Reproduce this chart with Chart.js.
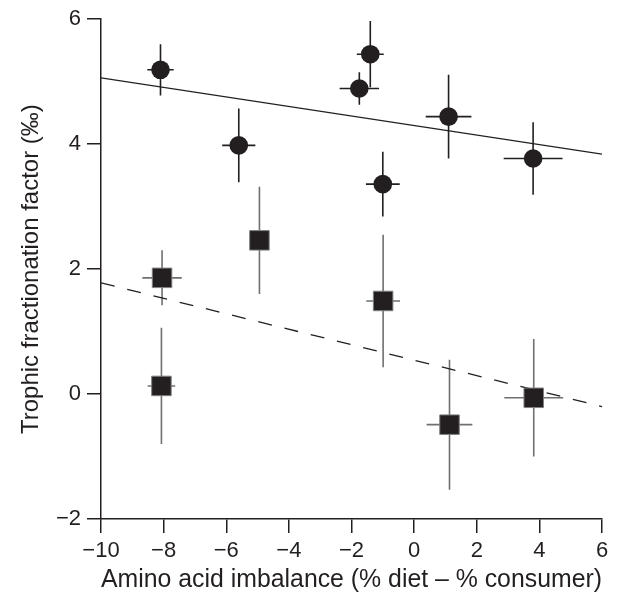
<!DOCTYPE html>
<html>
<head>
<meta charset="utf-8">
<script src="https://cdn.jsdelivr.net/npm/chart.js@4.4.1/dist/chart.umd.min.js"></script>
<style>
  html, body { margin: 0; padding: 0; background: #fff; }
  #wrap { width: 617px; height: 599px; }
</style>
</head>
<body>
<div id="wrap"><canvas id="trophicChart" width="617" height="599"></canvas></div>
<script>
// Circles (upper group)
const circleX = [-8.1, -5.6, -1.4, -1.75, -1.0, 1.1, 3.8];
const circleY = [5.19, 3.98, 5.44, 4.89, 3.36, 4.44, 3.77];
const circleXErr = [0.42, 0.53, 0.43, 0.63, 0.54, 0.73, 0.94];
const circleYErr = [0.41, 0.59, 0.53, 0.26, 0.52, 0.67, 0.58];

// Squares (lower group)
const squareX = [-8.05, -8.07, -4.94, -0.99, 1.13, 3.82];
const squareY = [1.86, 0.13, 2.46, 1.49, -0.49, -0.06];
const squareXErr = [0.63, 0.44, 0.3, 0.54, 0.73, 0.94];
const squareYErr = [0.44, 0.93, 0.86, 1.06, 1.04, 0.94];

// Fitted lines
const fitX = [-10, 6];
const solidFitY = [5.06, 3.84];
const dashedFitY = [1.78, -0.20];

const xTicks = [-10, -8, -6, -4, -2, 0, 2, 4, 6];
const yTicks = [-2, 0, 2, 4, 6];

const ink = '#231f20';
const family = "'Liberation Sans', Arial, Helvetica, sans-serif";
const tickFont = { family: family, size: 22 };
const yTitleFont = { family: family, size: 24 };
const xTitleFont = { family: family, size: 25 };

function toPoints(xs, ys) {
  return xs.map((x, i) => ({ x: x, y: ys[i] }));
}

function minusSign(v) {
  return String(v).replace('-', '\u2212');
}

// draws error bars under the markers
const errorBars = {
  id: 'errorBars',
  beforeDatasetsDraw(chart) {
    const ctx = chart.ctx;
    const xs = chart.scales.x, ys = chart.scales.y;
    chart.data.datasets.forEach(ds => {
      if (!ds.xErr) return;
      ctx.save();
      ctx.strokeStyle = ds.errColor;
      ctx.lineWidth = 1.6;
      ds.data.forEach((p, i) => {
        const px = xs.getPixelForValue(p.x), py = ys.getPixelForValue(p.y);
        ctx.beginPath();
        ctx.moveTo(xs.getPixelForValue(p.x - ds.xErr[i]), py);
        ctx.lineTo(xs.getPixelForValue(p.x + ds.xErr[i]), py);
        ctx.moveTo(px, ys.getPixelForValue(p.y + ds.yErr[i]));
        ctx.lineTo(px, ys.getPixelForValue(p.y - ds.yErr[i]));
        ctx.stroke();
      });
      ctx.restore();
    });
  }
};

const ctx = document.getElementById('trophicChart').getContext('2d');

new Chart(ctx, {
  type: 'scatter',
  data: {
    datasets: [
      {
        type: 'line',
        data: toPoints(fitX, solidFitY),
        borderColor: ink,
        borderWidth: 1.3,
        pointRadius: 0,
        order: 3
      },
      {
        type: 'line',
        data: toPoints(fitX, dashedFitY),
        borderColor: ink,
        borderWidth: 1.3,
        borderDash: [14, 13],
        pointRadius: 0,
        order: 3
      },
      {
        data: toPoints(circleX, circleY),
        xErr: circleXErr,
        yErr: circleYErr,
        errColor: ink,
        pointStyle: 'circle',
        pointRadius: 9.3,
        backgroundColor: ink,
        borderColor: ink,
        borderWidth: 0,
        order: 1
      },
      {
        data: toPoints(squareX, squareY),
        xErr: squareXErr,
        yErr: squareYErr,
        errColor: '#707070',
        pointStyle: 'rect',
        pointRadius: 13.8,
        backgroundColor: ink,
        borderColor: '#808080',
        borderWidth: 1,
        order: 2
      }
    ]
  },
  options: {
    responsive: false,
    animation: false,
    events: [],
    layout: {
      padding: { top: 18, right: 15, bottom: 0, left: 0 }
    },
    plugins: {
      legend: { display: false },
      tooltip: { enabled: false }
    },
    scales: {
      x: {
        type: 'linear',
        min: -10,
        max: 6,
        afterFit: scale => { scale.height = 80; },
        afterBuildTicks: scale => { scale.ticks = xTicks.map(v => ({ value: v })); },
        border: { display: true, color: ink, width: 1.5 },
        grid: { drawOnChartArea: false, drawTicks: true, tickLength: 14, tickColor: ink, lineWidth: 1.5 },
        ticks: { color: ink, font: tickFont, padding: 5, maxRotation: 0, callback: v => minusSign(v) },
        title: {
          display: true,
          text: 'Amino acid imbalance (% diet \u2013 % consumer)',
          color: ink,
          font: xTitleFont,
          padding: { top: 0, bottom: 4 }
        }
      },
      y: {
        type: 'linear',
        min: -2,
        max: 6,
        afterFit: scale => { scale.width = 101; },
        afterBuildTicks: scale => { scale.ticks = yTicks.map(v => ({ value: v })); },
        border: { display: true, color: ink, width: 1.5 },
        grid: { drawOnChartArea: false, drawTicks: true, tickLength: 14, tickColor: ink, lineWidth: 1.5 },
        ticks: { color: ink, font: tickFont, padding: 6, callback: v => minusSign(v) },
        title: {
          display: true,
          text: 'Trophic fractionation factor (\u2030)',
          color: ink,
          font: yTitleFont,
          padding: { top: 17, bottom: 0 }
        }
      }
    }
  },
  plugins: [errorBars]
});
</script>
</body>
</html>
